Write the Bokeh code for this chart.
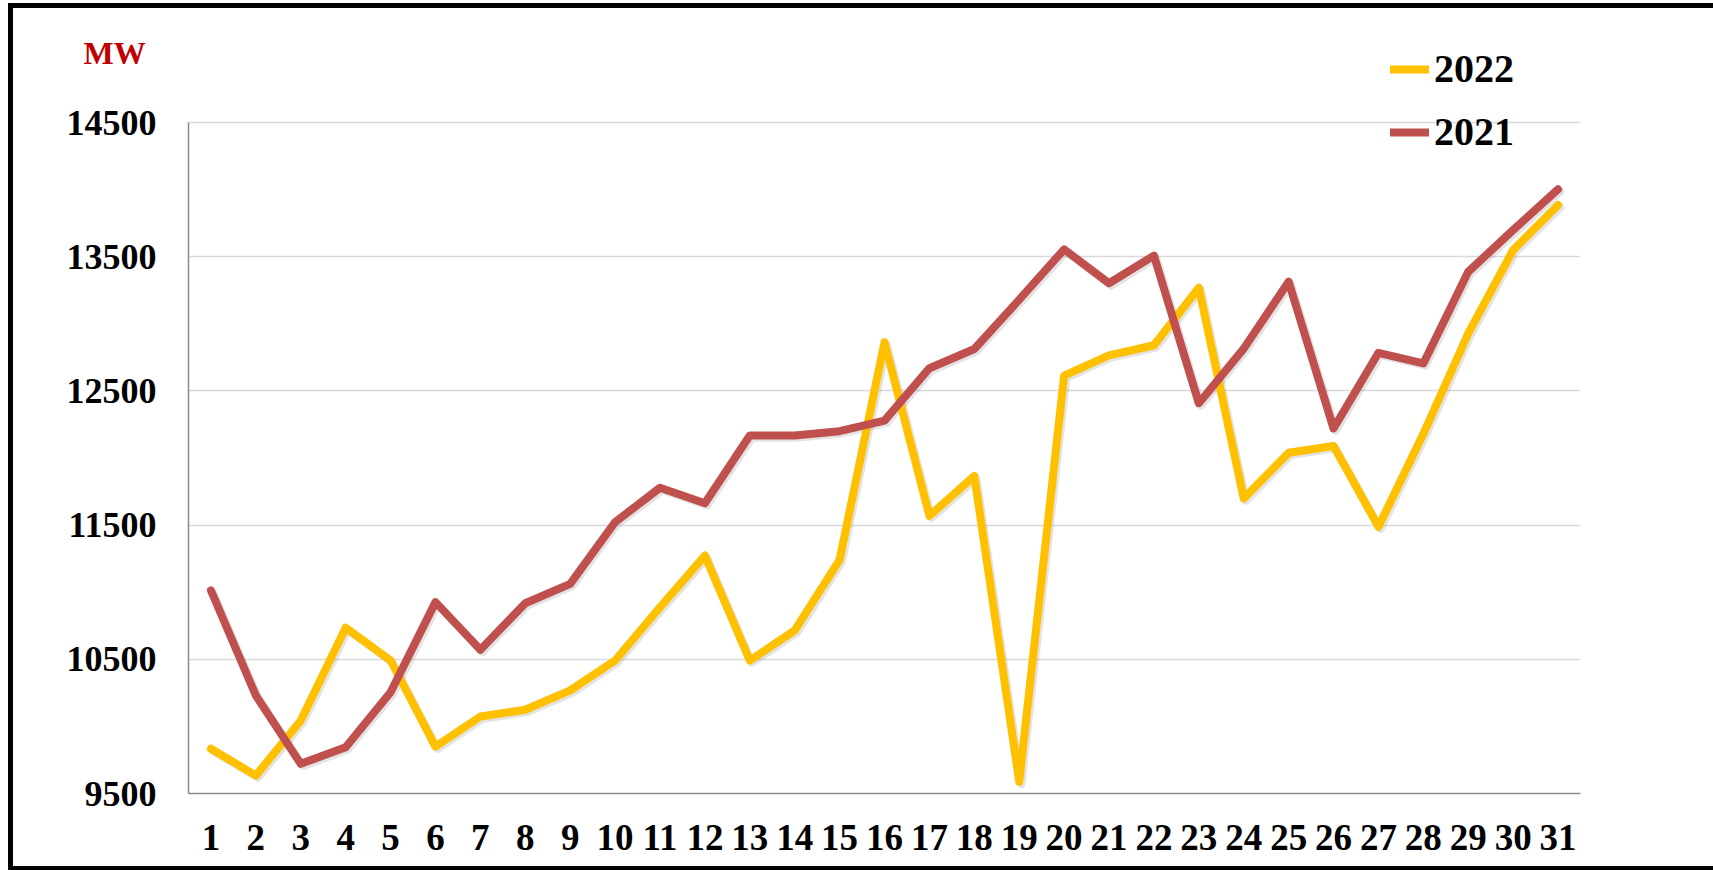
from bokeh.plotting import figure
from bokeh.models import Range1d, FixedTicker, Legend, LegendItem, ColumnDataSource
from bokeh.transform import dodge
from bokeh.embed import file_html
from bokeh.resources import INLINE

days = list(range(1, 32))
load_2022 = [9833, 9634, 10044, 10735, 10491, 9850, 10074, 10124, 10268, 10491,
             10888, 11273, 10491, 10715, 11241, 12863, 11569, 11866, 9588, 12614,
             12765, 12840, 13269, 11699, 12039, 12089, 11488, 12180, 12929, 13550, 13885]
load_2021 = [11013, 10230, 9721, 9845, 10255, 10926, 10571, 10918, 11062, 11522,
             11778, 11663, 12168, 12168, 12200, 12279, 12669, 12812, 13180, 13555,
             13302, 13508, 12408, 12815, 13314, 12220, 12784, 12705, 13388, 13699, 14002]
y_ticks = [9500, 10500, 11500, 12500, 13500, 14500]
series_labels = ["2022", "2021"]
series_colors = ["#FFC000", "#C0504D"]
unit_label = "MW"

src = ColumnDataSource(dict(x=days, y2022=load_2022, y2021=load_2021))

FONT = "Liberation Serif"
W, H = 1713, 866
# layout (canvas pixels)
FRAME_LEFT, FRAME_RIGHT, FRAME_TOP, FRAME_BOTTOM = 188, 1580, 40, 793
Y_MIN, Y_MAX = y_ticks[0], y_ticks[-1]
Y_MAX_PX = 122  # canvas y of the top gridline
px_per_unit = (FRAME_BOTTOM - Y_MAX_PX) / (Y_MAX - Y_MIN)
y_end = Y_MAX + (Y_MAX_PX - FRAME_TOP) / px_per_unit

p = figure(width=W, height=H, output_backend="svg", toolbar_location=None,
           x_range=Range1d(0.5, 31.5), y_range=Range1d(Y_MIN, y_end),
           min_border_left=FRAME_LEFT, min_border_right=W - FRAME_RIGHT,
           min_border_top=FRAME_TOP, min_border_bottom=H - FRAME_BOTTOM)
# black frame around the chart: top, left and bottom edges
p.styles = {"vertical-align": "top",
            "box-shadow": ("inset 8px 0 0 0 #ffffff, inset 0 3px 0 0 #ffffff, "
                           "inset 13px 0 0 0 #000000, inset 0 8px 0 0 #000000, "
                           "8px 4px 0 0 #000000")}
p.outline_line_color = None
p.background_fill_color = "white"
p.border_fill_color = None

# title used as unit label
p.title.text = unit_label
p.title.align = "left"
p.title.offset = -105
p.title.standoff = -60
p.title.text_font = FONT
p.title.text_font_size = "32px"
p.title.text_font_style = "bold"
p.title.text_color = "#C00000"

# axes
p.xaxis.ticker = FixedTicker(ticks=days)
p.yaxis.ticker = FixedTicker(ticks=y_ticks)
p.yaxis.bounds = (Y_MIN, Y_MAX)
for ax in (p.xaxis, p.yaxis):
    ax.major_tick_line_color = None
    ax.minor_tick_line_color = None
    ax.major_tick_out = 0
    ax.major_tick_in = 0
    ax.axis_line_color = "#8A8A8A"
    ax.axis_line_width = 1.5
    ax.major_label_text_font = FONT
    ax.major_label_text_font_style = "bold"
    ax.major_label_text_color = "black"
p.xaxis.major_label_text_font_size = "37px"
p.yaxis.major_label_text_font_size = "36px"
p.xaxis.major_label_standoff = 31
p.yaxis.major_label_standoff = 32

p.xgrid.grid_line_color = None
p.ygrid.ticker = FixedTicker(ticks=y_ticks)
p.ygrid.grid_line_color = "#D9D9D9"
p.ygrid.grid_line_width = 1.5

# subtle shadows
for col in ("y2022", "y2021"):
    p.line(x=dodge("x", 0.05), y=dodge(col, -17), source=src, line_color="#808080",
           line_alpha=0.22, line_width=8, line_join="round", line_cap="round")

r22 = p.line("x", "y2022", source=src, line_color=series_colors[0], line_width=8,
             line_join="round", line_cap="round")
r21 = p.line("x", "y2021", source=src, line_color=series_colors[1], line_width=8,
             line_join="round", line_cap="round")

legend = Legend(items=[LegendItem(label=series_labels[0], renderers=[r22]),
                       LegendItem(label=series_labels[1], renderers=[r21])],
                location=(1202, 638), orientation="vertical",
                glyph_width=39, glyph_height=40, label_height=40,
                label_standoff=5, spacing=16, padding=0, margin=0,
                border_line_color=None, background_fill_alpha=0,
                label_text_font=FONT, label_text_font_size="40px",
                label_text_font_style="bold", label_text_color="black")
p.add_layout(legend, "center")

open("out.html", "w").write(file_html(p, INLINE))
